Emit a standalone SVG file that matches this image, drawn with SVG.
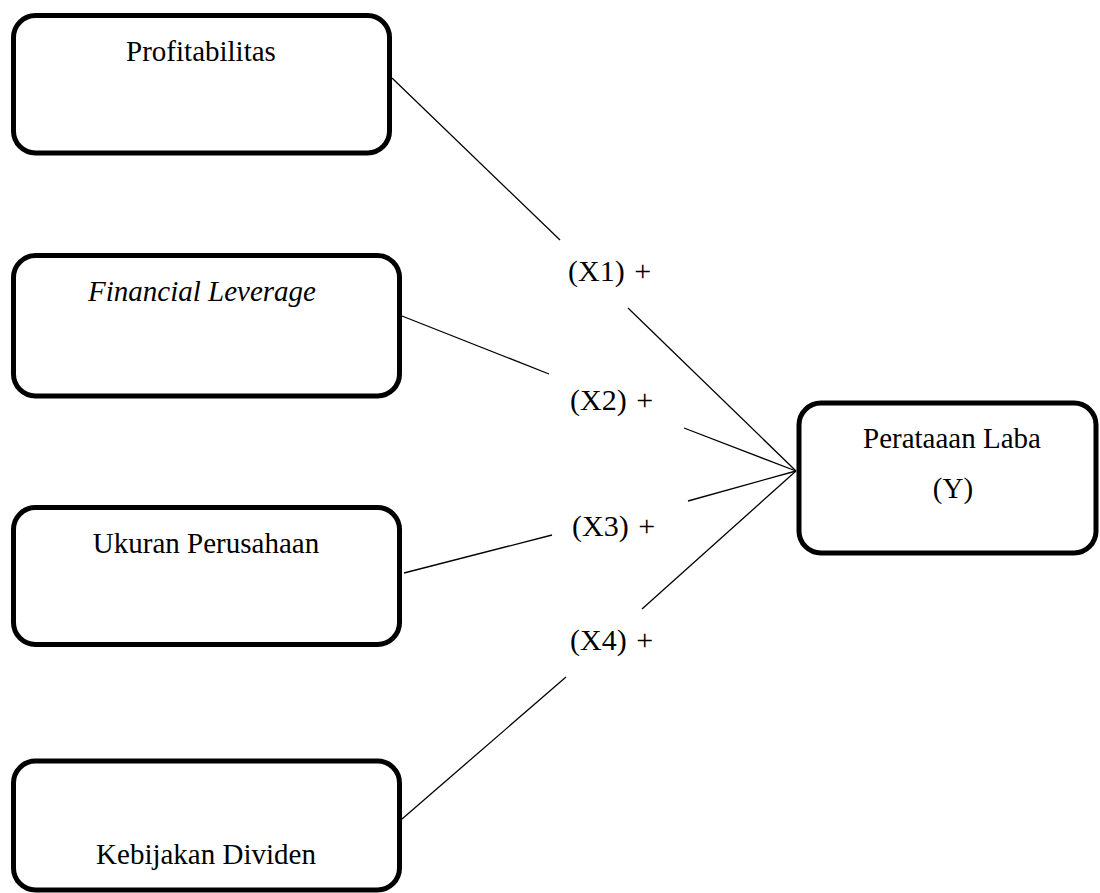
<svg xmlns="http://www.w3.org/2000/svg" width="1100" height="893" viewBox="0 0 1100 893">
<style>
.box{fill:#fff;stroke:#000;stroke-width:5}
.t{font-family:"Liberation Serif","Times New Roman",serif;font-size:29px;fill:#000;text-anchor:middle}
.lbl{font-family:"Liberation Serif","Times New Roman",serif;font-size:30px;fill:#000;word-spacing:2px}
.c line{stroke:#000;stroke-width:1.3}
</style>
<rect width="1100" height="893" fill="#fff"/>
<g id="connectors" class="c">
<line x1="392" y1="78" x2="560" y2="240"/>
<line x1="628" y1="308" x2="796" y2="471"/>
<line x1="402" y1="316" x2="549" y2="374"/>
<line x1="684" y1="428" x2="796" y2="471"/>
<line x1="404" y1="573" x2="552" y2="535"/>
<line x1="688" y1="501" x2="796" y2="471"/>
<line x1="402" y1="819" x2="566" y2="677"/>
<line x1="642" y1="609" x2="796" y2="471"/>
</g>
<g id="node-profitabilitas">
<rect class="box" x="13.5" y="15.5" width="376" height="137.5" rx="22"/>
<text class="t" x="201" y="61">Profitabilitas</text>
</g>
<g id="node-financial-leverage">
<rect class="box" x="13.5" y="255.5" width="386" height="140.5" rx="22"/>
<text class="t" x="202" y="301" font-style="italic">Financial Leverage</text>
</g>
<g id="node-ukuran-perusahaan">
<rect class="box" x="13.5" y="507.5" width="386" height="137" rx="22"/>
<text class="t" x="206" y="553">Ukuran Perusahaan</text>
</g>
<g id="node-kebijakan-dividen">
<rect class="box" x="13.5" y="761" width="386" height="129" rx="22"/>
<text class="t" x="206" y="864">Kebijakan Dividen</text>
</g>
<g id="node-perataan-laba">
<rect class="box" x="799" y="403" width="297" height="150" rx="22"/>
<text class="t" x="952" y="448">Perataaan Laba</text>
<text class="t" x="953" y="498">(Y)</text>
</g>
<g id="labels">
<text class="lbl" x="568" y="281">(X1) +</text>
<text class="lbl" x="570" y="410">(X2) +</text>
<text class="lbl" x="572" y="536">(X3) +</text>
<text class="lbl" x="570" y="650">(X4) +</text>
</g>
</svg>
